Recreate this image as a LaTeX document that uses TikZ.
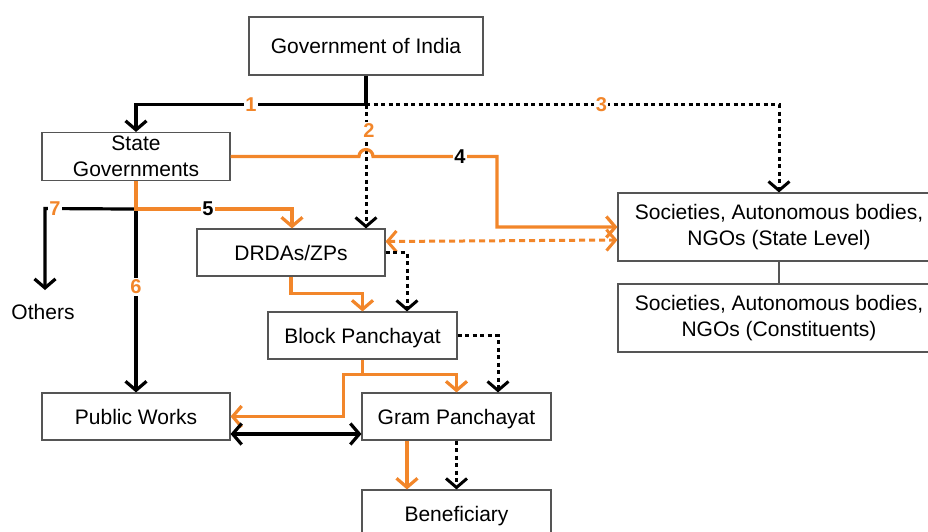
\documentclass[tikz,border=0pt]{standalone}
\usepackage{fontspec}
\setmainfont{Liberation Sans}
\usetikzlibrary{arrows.meta,calc}
\definecolor{flow}{RGB}{242,134,42}
\definecolor{frame}{RGB}{85,85,85}

\begin{document}
\begin{tikzpicture}[x=1pt,y=-1pt,
  font=\fontsize{21}{26}\selectfont,
  box/.style={draw=frame,line width=1.1pt,inner sep=0pt,align=center,fill=white},
  oneline/.style={box,text height=15pt,text depth=0pt},
  tip/.style={-{Straight Barb[length=9pt,width=21pt]}},
  twotip/.style={{Straight Barb[length=9pt,width=21pt]}-{Straight Barb[length=9pt,width=21pt]}},
  solidline/.style={line width=3.2pt,black},
  dotline/.style={line width=3pt,black,dash pattern=on 4pt off 3.5pt},
  orline/.style={line width=3.2pt,flow},
  ordash/.style={line width=3pt,flow,dash pattern=on 6pt off 4pt},
  num/.style={font=\fontsize{20}{24}\selectfont\bfseries,fill=white,inner sep=1.5pt},
]
\useasboundingbox (0,0) rectangle (928,532);
\clip (0,0) rectangle (928,532);

% boxes
\node[oneline,minimum width=234pt,minimum height=58pt] (gov)   at (366,46)    {Government of India};
\node[box,minimum width=188pt,minimum height=48pt] (state) at (136,156.5)   {State\\Governments};
\node[oneline,minimum width=188pt,minimum height=47pt] (drda)  at (291,252.5) {DRDAs/ZPs};
\node[box,minimum width=322pt,minimum height=68pt] (soc1)  at (779,227)   {Societies, Autonomous bodies,\\NGOs (State Level)};
\node[box,minimum width=322pt,minimum height=68pt] (soc2)  at (779,318)   {Societies, Autonomous bodies,\\NGOs (Constituents)};
\node[oneline,minimum width=189pt,minimum height=47pt] (block) at (362.5,335.5) {Block Panchayat};
\node[oneline,minimum width=188pt,minimum height=47pt] (pw)    at (136,416.5) {Public Works};
\node[oneline,minimum width=189pt,minimum height=47pt] (gram)  at (456.5,416.5) {Gram Panchayat};
\node[oneline,minimum width=189pt,minimum height=47pt] (bene)  at (456.5,513.5) {Beneficiary};
\node[inner sep=0pt] (others) at (43,312) {Others};

% junction points
\coordinate (top)   at ($(gov.south)+(0,29)$);
\coordinate (split) at ($(state.south)+(0,28)$);

% links from the Government of India
\draw[dotline,tip] (top) -- ($(top)+(0,5)$) -- (top |- drda.north)
  node[num,text=flow,pos=0.18,xshift=3pt] {2};
\draw[dotline,tip] (top) -- (top -| soc1.north)
  node[num,text=flow,pos=0.57] {3} -- (soc1.north);
\draw[solidline,tip] (gov.south) -- (top) -- (top -| state.north)
  node[num,text=flow,pos=0.5] {1} -- (state.north);

% line 4 with a hop over line 2
\draw[orline,tip] (state.east) -- ($(state.east -| top)+(-7,0)$)
  arc[start angle=180,end angle=360,radius=7]
  -- (state.east -| 497,0) |- (soc1.west);
\node[num] at (460,156.5) {4};

% lines 6 and 7
\draw[solidline,tip] (split) -- (pw.north);
\node[num,text=flow] at (136,287) {6};
\draw[solidline,tip] (split) -- (45,208.5) -- (45,290);
\node[num,text=flow] at (55,208.5) {7};

% line 5
\draw[orline,tip] (state.south) -- (split) -| ($(drda.north)+(1,0)$);
\node[num] at (208,208.5) {5};

% DRDAs to state level bodies
\draw[ordash,twotip] ($(drda.east)+(0,-11)$) -- ($(soc1.west)+(0,13)$);

% DRDAs to Block Panchayat
\draw[dotline,tip] (drda.east) -| ($(block.north)+(44.5,0)$);
\draw[orline,tip] (drda.south) -- ++(0,17) -| (block.north);

% Block Panchayat onwards
\draw[dotline,tip] (block.east) -| ($(gram.north)+(41.5,0)$);
\draw[orline,tip] (block.south) -- ++(0,15) -| (gram.north);
\draw[orline,tip] ($(block.south)+(0,15)$) -- ++(-19,0) |- (pw.east);

% Public Works and Gram Panchayat
\draw[solidline,twotip] ($(pw.east)+(0,17.5)$) -- ($(gram.west)+(0,17.5)$);

% Gram Panchayat to Beneficiary
\draw[orline,tip] ($(gram.south)+(-49.5,0)$) -- ($(bene.north)+(-49.5,0)$);
\draw[dotline,tip] (gram.south) -- (bene.north);

% state level bodies to constituents
\draw[frame,line width=1.1pt] (soc1.south) -- (soc2.north);
\end{tikzpicture}
\end{document}
